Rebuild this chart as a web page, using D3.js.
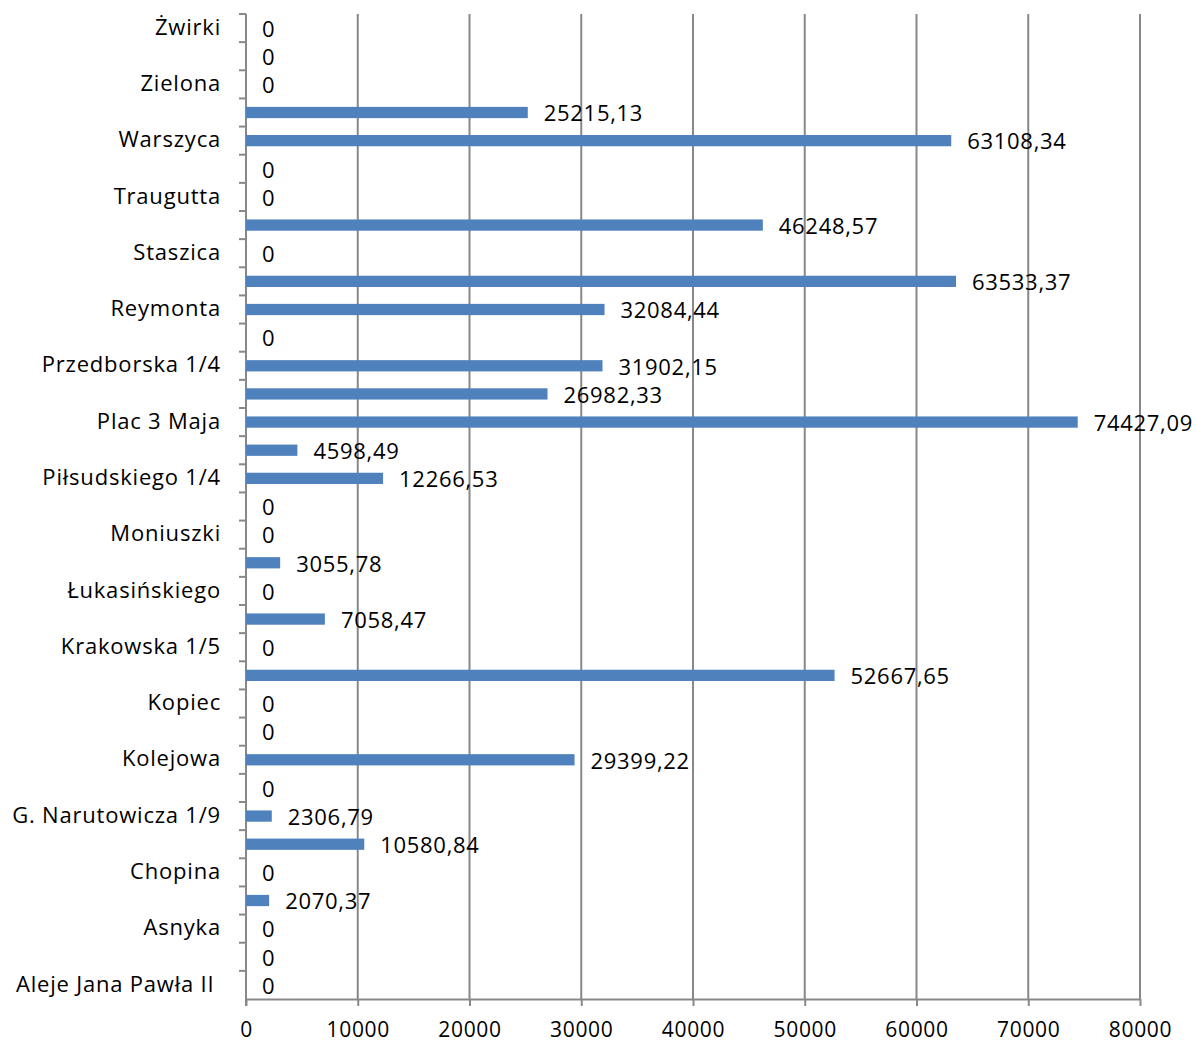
<!DOCTYPE html>
<html>
<head>
<meta charset="utf-8">
<script src="https://cdn.jsdelivr.net/npm/d3@7"></script>
<style>
  body { margin: 0; background: #fff; }
  text { font-family: "Open Sans", sans-serif; fill: #000; }
</style>
</head>
<body>
<div id="chart"></div>
<script>
// categories listed bottom to top (Excel order); blank ones have no visible label
const categories = [
  "Aleje Jana Pawła II ", "", "Asnyka", "", "Chopina", "", "G. Narutowicza 1/9", "",
  "Kolejowa", "", "Kopiec", "", "Krakowska 1/5", "", "Łukasińskiego", "",
  "Moniuszki", "", "Piłsudskiego 1/4", "", "Plac 3 Maja", "", "Przedborska 1/4", "",
  "Reymonta", "", "Staszica", "", "Traugutta", "", "Warszyca", "", "Zielona", "", "Żwirki"
];
const values = [
  0, 0, 0, 2070.37, 0, 10580.84, 2306.79, 0,
  29399.22, 0, 0, 52667.65, 0, 7058.47, 0, 3055.78,
  0, 0, 12266.53, 4598.49, 74427.09, 26982.33, 31902.15, 0,
  32084.44, 63533.37, 0, 46248.57, 0, 0, 63108.34, 25215.13, 0, 0, 0
];
const xTicks = [0, 10000, 20000, 30000, 40000, 50000, 60000, 70000, 80000];

const width = 1196, height = 1042;
const margin = {top: 14, right: 56, bottom: 43, left: 246};

const data = values.map((v, i) => ({i: i, name: categories[i], value: v}));

const svg = d3.select("#chart").append("svg")
  .attr("width", width)
  .attr("height", height);

const x = d3.scaleLinear()
  .domain([0, 80000])
  .range([margin.left, width - margin.right]);

const y = d3.scaleBand()
  .domain(d3.range(values.length).reverse())
  .range([margin.top, height - margin.bottom])
  .paddingInner(0.6)
  .paddingOuter(0.3);

const grey = "#888888";

// vertical gridlines
svg.append("g")
  .selectAll("line")
  .data(xTicks.slice(1))
  .join("line")
  .attr("x1", d => x(d)).attr("x2", d => x(d))
  .attr("y1", margin.top).attr("y2", height - margin.bottom)
  .attr("stroke", grey)
  .attr("stroke-width", 2);

// x axis
const xAxis = svg.append("g")
  .attr("transform", `translate(0,${height - margin.bottom})`)
  .call(d3.axisBottom(x).tickValues(xTicks).tickFormat(d3.format("d")).tickSizeInner(7).tickSizeOuter(0).tickPadding(16));
xAxis.select(".domain").attr("stroke", grey).attr("stroke-width", 2);
xAxis.selectAll(".tick line").attr("stroke", grey).attr("stroke-width", 2);
xAxis.selectAll("text")
  .style("font-size", "21px")
  .style("letter-spacing", "0.7px")
  .attr("fill", "#000");

// y axis with ticks on band boundaries
const yAxisG = svg.append("g");
yAxisG.append("line")
  .attr("x1", margin.left).attr("x2", margin.left)
  .attr("y1", margin.top).attr("y2", height - margin.bottom + 7)
  .attr("stroke", grey).attr("stroke-width", 2);
const step = y.step();
yAxisG.selectAll(".btick")
  .data(d3.range(values.length))
  .join("line")
  .attr("class", "btick")
  .attr("x1", margin.left - 7).attr("x2", margin.left)
  .attr("y1", d => y(d) - step * 0.3)
  .attr("y2", d => y(d) - step * 0.3)
  .attr("stroke", grey).attr("stroke-width", 2);

// category labels
yAxisG.selectAll(".clabel")
  .data(data.filter(d => d.name !== ""))
  .join("text")
  .attr("class", "clabel")
  .attr("x", margin.left - 25)
  .attr("y", d => y(d.i) + y.bandwidth() / 2)
  .attr("dy", "0.3em")
  .attr("text-anchor", "end")
  .style("white-space", "pre")
  .style("font-size", "22px")
  .style("letter-spacing", "0.8px")
  .text(d => d.name);

// bars
svg.append("g")
  .selectAll("rect")
  .data(data)
  .join("rect")
  .attr("x", x(0))
  .attr("y", d => y(d.i))
  .attr("width", d => x(d.value) - x(0))
  .attr("height", y.bandwidth())
  .attr("fill", "#4f81bd");

// data labels
const pl = d3.formatLocale({decimal: ",", thousands: "", grouping: [3], currency: ["", ""]});
const fmt = pl.format(".2f");
svg.append("g")
  .selectAll("text")
  .data(data)
  .join("text")
  .attr("x", d => x(d.value) + 16)
  .attr("y", d => y(d.i) + y.bandwidth() / 2)
  .attr("dy", "0.4em")
  .style("font-size", "22px")
  .style("letter-spacing", "0.7px")
  .text(d => d.value === 0 ? "0" : fmt(d.value));
</script>
</body>
</html>
